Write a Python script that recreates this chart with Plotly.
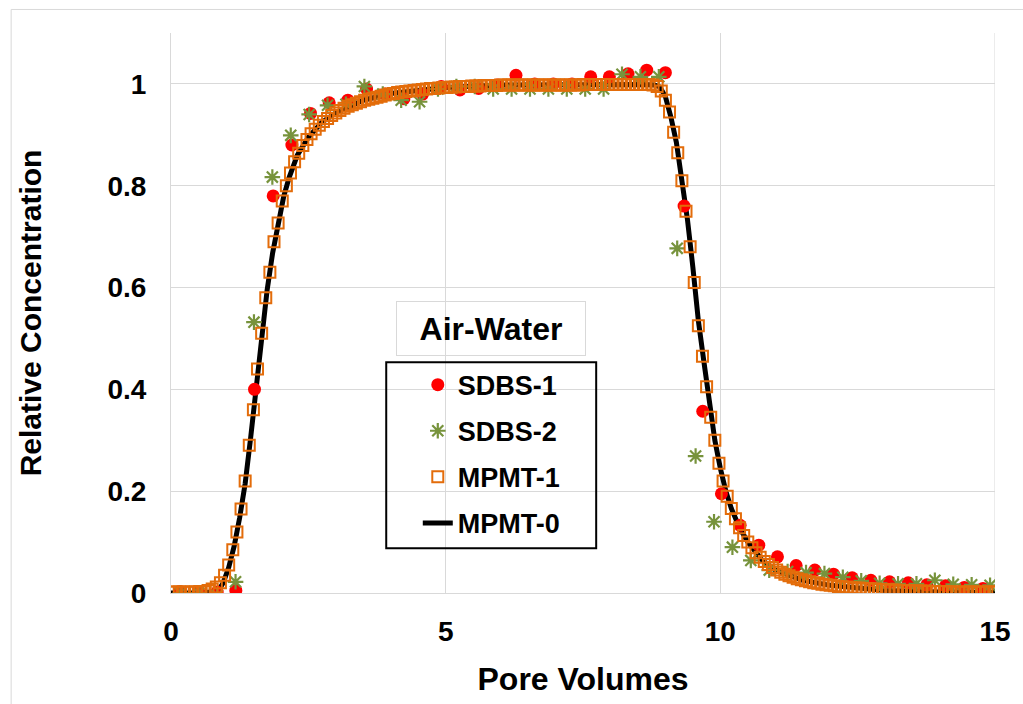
import plotly.graph_objects as go

# ---------------- data ----------------
sdbs1_x = [0.16, 0.50, 0.84, 1.18, 1.52, 1.86, 2.20, 2.54, 2.88, 3.22, 3.56, 3.90, 4.24, 4.58, 4.92,
           5.26, 5.60, 5.94, 6.28, 6.62, 6.96, 7.30, 7.64, 7.98, 8.32, 8.66, 9.00, 9.34, 9.68, 10.02,
           10.36, 10.70, 11.04, 11.38, 11.72, 12.06, 12.40, 12.74, 13.08, 13.42, 13.76, 14.10, 14.44, 14.78]
sdbs1_y = [0.003, 0.003, 0.002, 0.005, 0.40, 0.78, 0.88, 0.942, 0.963, 0.968, 0.99, 0.98, 0.971, 0.98, 0.995,
           0.988, 0.991, 0.998, 1.017, 1.0, 1.0, 1.0, 1.014, 1.014, 1.02, 1.027, 1.022, 0.76, 0.357, 0.195,
           0.133, 0.094, 0.071, 0.054, 0.045, 0.037, 0.030, 0.025, 0.022, 0.020, 0.016, 0.014, 0.011, 0.009]

sdbs2_x = [0.17, 0.505, 0.84, 1.175, 1.51, 1.845, 2.18, 2.515, 2.85, 3.185, 3.52, 3.855, 4.19, 4.525, 4.86,
           5.195, 5.53, 5.865, 6.2, 6.535, 6.87, 7.205, 7.54, 7.875, 8.21, 8.545, 8.88, 9.215, 9.55, 9.885,
           10.22, 10.555, 10.89, 11.225, 11.56, 11.895, 12.23, 12.565, 12.9, 13.235, 13.57, 13.905, 14.24,
           14.575, 14.91]
sdbs2_y = [0.0, 0.0, -0.005, 0.022, 0.532, 0.817, 0.899, 0.940, 0.958, 0.96,
           0.995, 0.98, 0.968, 0.965, 0.99, 0.995, 0.995, 0.99, 0.99, 0.99,
           0.99, 0.99, 0.99, 0.99, 1.019, 1.014, 1.014, 0.677, 0.269, 0.14,
           0.09, 0.064, 0.045, 0.042, 0.040, 0.038, 0.031, 0.024, 0.019, 0.018,
           0.018, 0.025, 0.017, 0.016, 0.015]

mpmt1_x = [0, 0.075, 0.15, 0.225, 0.3, 0.375, 0.45, 0.525, 0.6, 0.675,
           0.75, 0.825, 0.9, 0.975, 1.05, 1.125, 1.2, 1.275, 1.35, 1.425,
           1.5, 1.575, 1.65, 1.725, 1.8, 1.875, 1.95, 2.025, 2.1, 2.175,
           2.25, 2.325, 2.4, 2.475, 2.55, 2.625, 2.7, 2.775, 2.85, 2.925,
           3.0, 3.075, 3.15, 3.225, 3.3, 3.375, 3.45, 3.525, 3.6, 3.675,
           3.75, 3.825, 3.9, 3.975, 4.05, 4.125, 4.2, 4.275, 4.35, 4.425,
           4.5, 4.575, 4.65, 4.725, 4.8, 4.875, 4.95, 5.025, 5.1, 5.175,
           5.25, 5.325, 5.4, 5.475, 5.55, 5.625, 5.7, 5.775, 5.85, 5.925,
           6.0, 6.075, 6.15, 6.225, 6.3, 6.375, 6.45, 6.525, 6.6, 6.675,
           6.75, 6.825, 6.9, 6.975, 7.05, 7.125, 7.2, 7.275, 7.35, 7.425,
           7.5, 7.575, 7.65, 7.725, 7.8, 7.875, 7.95, 8.025, 8.1, 8.175,
           8.25, 8.325, 8.4, 8.475, 8.55, 8.625, 8.7, 8.775, 8.85, 8.925,
           9.0, 9.075, 9.15, 9.225, 9.3, 9.375, 9.45, 9.525, 9.6, 9.675,
           9.75, 9.825, 9.9, 9.975, 10.05, 10.125, 10.2, 10.275, 10.35, 10.425,
           10.5, 10.575, 10.65, 10.725, 10.8, 10.875, 10.95, 11.025, 11.1, 11.175,
           11.25, 11.325, 11.4, 11.475, 11.55, 11.625, 11.7, 11.775, 11.85, 11.925,
           12.0, 12.075, 12.15, 12.225, 12.3, 12.375, 12.45, 12.525, 12.6, 12.675,
           12.75, 12.825, 12.9, 12.975, 13.05, 13.125, 13.2, 13.275, 13.35, 13.425,
           13.5, 13.575, 13.65, 13.725, 13.8, 13.875, 13.95, 14.025, 14.1, 14.175,
           14.25, 14.325, 14.4, 14.475, 14.55, 14.625, 14.7, 14.775, 14.85, 14.925,
           15.0]
mpmt1_y = [0.002, 0.002, 0.002, 0.002, 0.002, 0.002, 0.002, 0.003, 0.003, 0.005,
           0.008, 0.012, 0.02, 0.035, 0.055, 0.085, 0.12, 0.165, 0.22, 0.29,
           0.36, 0.44, 0.51, 0.58, 0.63, 0.69, 0.727, 0.77, 0.80, 0.825,
           0.847, 0.864, 0.879, 0.891, 0.902, 0.911, 0.919, 0.926, 0.932, 0.938,
           0.943, 0.948, 0.952, 0.956, 0.959, 0.962, 0.965, 0.968, 0.970, 0.972,
           0.974, 0.976, 0.978, 0.980, 0.981, 0.983, 0.984, 0.985, 0.986, 0.987,
           0.988, 0.989, 0.990, 0.991, 0.991, 0.992, 0.993, 0.993, 0.994, 0.994,
           0.995, 0.995, 0.995, 0.996, 0.996, 0.996, 0.997, 0.997, 0.997, 0.997,
           0.998, 0.998, 0.998, 0.998, 0.998, 0.998, 0.998, 0.998, 0.998, 0.998,
           0.998, 0.998, 0.998, 0.998, 0.998, 0.998, 0.998, 0.998, 0.998, 0.998,
           0.999, 0.999, 0.999, 0.999, 0.999, 0.999, 0.999, 0.999, 0.999, 0.999,
           0.999, 0.999, 0.999, 0.999, 0.999, 0.999, 0.999, 0.998, 0.995, 0.986,
           0.968, 0.945, 0.905, 0.865, 0.81, 0.75, 0.68, 0.61, 0.525, 0.465,
           0.405, 0.345, 0.30, 0.255, 0.22, 0.19, 0.166, 0.146, 0.128, 0.113,
           0.100, 0.089, 0.079, 0.070, 0.062, 0.056, 0.050, 0.045, 0.041, 0.037,
           0.034, 0.031, 0.028, 0.026, 0.024, 0.022, 0.020, 0.019, 0.017, 0.016,
           0.015, 0.014, 0.013, 0.012, 0.012, 0.011, 0.010, 0.010, 0.009, 0.009,
           0.008, 0.008, 0.007, 0.007, 0.006, 0.006, 0.006, 0.005, 0.005, 0.005,
           0.004, 0.004, 0.004, 0.004, 0.003, 0.003, 0.003, 0.003, 0.003, 0.002,
           0.002, 0.002, 0.002, 0.002, 0.002, 0.002, 0.002, 0.002, 0.002, 0.002,
           0.002]

mpmt0_x = [0, 0.5, 0.85, 0.95, 1.05, 1.15, 1.25, 1.35, 1.45, 1.55,
           1.65, 1.75, 1.85, 1.95, 2.05, 2.15, 2.3, 2.5, 2.75, 3.0,
           3.5, 4.0, 4.5, 5.0, 6.0, 7.0, 8.0, 8.6, 8.8, 8.9,
           9.0, 9.1, 9.2, 9.3, 9.4, 9.5, 9.6, 9.7, 9.8, 9.9,
           10.0, 10.1, 10.2, 10.35, 10.5, 10.75, 11.0, 11.5, 12.0, 12.5,
           13.0, 14.0, 15.0]
mpmt0_y = [0.0, 0.0, 0.003, 0.02, 0.05, 0.092, 0.148, 0.215, 0.305, 0.405,
           0.505, 0.595, 0.668, 0.727, 0.778, 0.816, 0.86, 0.895, 0.925, 0.943,
           0.968, 0.981, 0.988, 0.993, 0.998, 0.999, 0.999, 0.999, 0.998, 0.994,
           0.975, 0.935, 0.885, 0.815, 0.735, 0.64, 0.535, 0.455, 0.375, 0.30,
           0.245, 0.2, 0.166, 0.128, 0.1, 0.066, 0.045, 0.025, 0.015, 0.009,
           0.005, 0.002, 0.001]

x_ticks = [0, 5, 10, 15]
y_ticks = [0, 0.2, 0.4, 0.6, 0.8, 1]
y_tick_text = ["0", "0.2", "0.4", "0.6", "0.8", "1"]

# ---------------- figure ----------------
FONT = "Liberation Sans, Arial, Helvetica, sans-serif"
GRID = "#d9d9d9"

fig = go.Figure()

fig.add_trace(go.Scatter(
    x=mpmt0_x, y=mpmt0_y, mode="lines", name="MPMT-0",
    line=dict(color="black", width=5), legendrank=4, legendgroup="d"))
fig.add_trace(go.Scatter(
    x=sdbs1_x, y=sdbs1_y, mode="markers", name="SDBS-1",
    marker=dict(symbol="circle", size=13, color="#ff0000"), legendrank=1, legendgroup="a"))
fig.add_trace(go.Scatter(
    x=sdbs2_x, y=sdbs2_y, mode="markers", name="SDBS-2",
    marker=dict(symbol="asterisk-open", size=13, color="#77933c",
                line=dict(color="#77933c", width=2.2)), legendrank=2, legendgroup="b"))
fig.add_trace(go.Scatter(
    x=mpmt1_x, y=mpmt1_y, mode="markers", name="MPMT-1",
    marker=dict(symbol="square-open", size=11, color="#e36c0a",
                line=dict(color="#e36c0a", width=2)), legendrank=3, legendgroup="c"))

fig.update_layout(
    width=1023, height=704, autosize=False,
    margin=dict(l=171, r=24, t=33, b=111),
    paper_bgcolor="white", plot_bgcolor="white",
    font=dict(family=FONT, color="black"),
    showlegend=True,
    legend=dict(
        x=0.2995, y=0.415, xanchor="left", yanchor="top",
        bgcolor="rgba(0,0,0,0)", borderwidth=0,
        font=dict(family=FONT, size=27, color="black", weight="bold"),
        traceorder="grouped", tracegroupgap=8,
    ),
    xaxis=dict(
        range=[0, 15], tickvals=x_ticks, showgrid=True, gridcolor=GRID, gridwidth=1,
        zeroline=False, showline=True, linecolor=GRID, linewidth=1, ticks="",
        tickfont=dict(family=FONT, size=28, color="black", weight="bold"),
        ticklabelstandoff=13,
        title=dict(text="Pore Volumes", font=dict(family=FONT, size=32, color="black", weight="bold"),
                   standoff=22),
    ),
    yaxis=dict(
        range=[0, 1.1], tickvals=y_ticks, ticktext=y_tick_text, showgrid=True, gridcolor=GRID,
        gridwidth=1, zeroline=False, showline=True, linecolor=GRID, linewidth=1, ticks="",
        tickfont=dict(family=FONT, size=28, color="black", weight="bold"),
        ticklabelstandoff=18,
        title=dict(text="Relative Concentration",
                   font=dict(family=FONT, size=30, color="black", weight="bold"), standoff=56),
    ),
    shapes=[
        # outer chart-area border
        dict(type="rect", xref="paper", yref="paper", x0=-0.194, x1=1.2, y0=-0.4, y1=1.042,
             line=dict(color=GRID, width=1), fillcolor="rgba(0,0,0,0)", layer="below"),
        # right-hand gridline
        dict(type="line", xref="x", yref="paper", x0=15, x1=15, y0=0, y1=1,
             line=dict(color=GRID, width=1), layer="below"),
        # legend frame
        dict(type="rect", xref="paper", yref="paper", x0=0.2612, x1=0.516, y0=0.0798, y1=0.412,
             line=dict(color="black", width=2), fillcolor="rgba(0,0,0,0)", layer="above"),
    ],
    annotations=[
        dict(text="Air-Water", xref="paper", yref="paper", x=0.3886, y=0.4727,
             xanchor="center", yanchor="middle", showarrow=False,
             font=dict(family=FONT, size=32, color="black", weight="bold"),
             bordercolor=GRID, borderwidth=1, borderpad=0, width=188, height=53,
             bgcolor="rgba(0,0,0,0)"),
    ],
)

fig.write_html("out.html")
